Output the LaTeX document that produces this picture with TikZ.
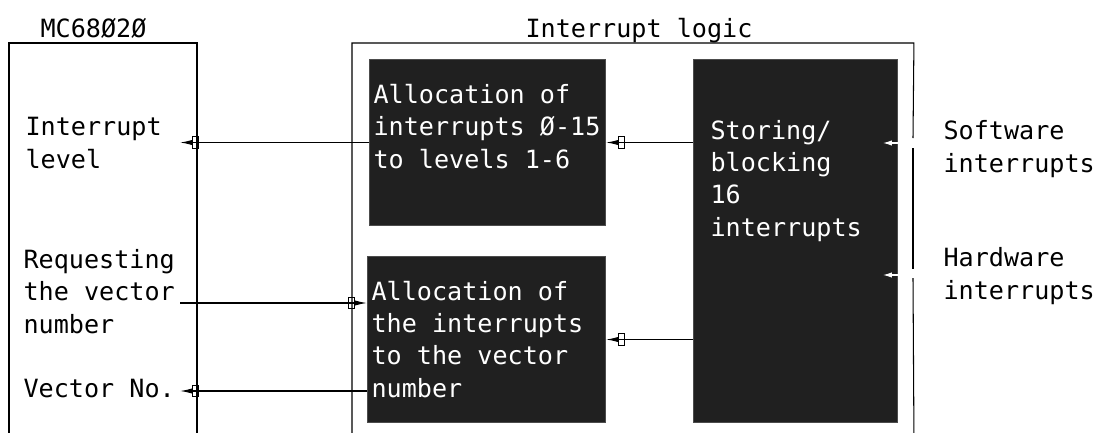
\documentclass[tikz,border=0pt]{standalone}
\usepackage{fontspec}
\setmonofont{DejaVu Sans Mono}
\usepackage{tikz}
\usetikzlibrary{positioning, arrows.meta, calc}

\definecolor{boxdark}{RGB}{32,32,32}
\newcommand{\diagfont}{\ttfamily\fontsize{14.3pt}{18.3pt}\selectfont}

\begin{document}
\begin{tikzpicture}[
    x=0.02cm, y=-0.02cm,
    line width=0.6pt,
    sigtip/.tip={Square[open, length=4pt, width=7pt] Latex[length=7pt, width=3pt]},
    frame/.style={rectangle, draw=none, anchor=north west, inner sep=0pt},
    darkbox/.style={rectangle, fill=boxdark, draw=gray!60!black, anchor=north west, inner sep=0pt},
    txt/.style={anchor=base west, align=left, inner sep=0pt, font=\diagfont},
    wtxt/.style={txt, text=white},
    sig/.style={-{sigtip}},
    insig/.style={draw=white, -{Latex[length=5pt, width=3pt]}},
]
\useasboundingbox (0,0) rectangle (1100,433);

% outer frames, open at the bottom
\node[frame, minimum width=3.74cm, minimum height=7.8cm](mc) at (9,43){};
\node[frame, minimum width=11.22cm, minimum height=7.8cm](logic) at (352,43){};
\node[txt] at (40,37){MC68Ø2Ø};
\node[txt] at (525,37){Interrupt logic};

% blocks (text nodes sit on their last baseline)
\node[darkbox, minimum width=4.72cm, minimum height=3.32cm](a1) at (369,59){};
\node[darkbox, minimum width=4.76cm, minimum height=3.32cm](a2) at (367,256){};
\node[darkbox, minimum width=4.08cm, minimum height=7.26cm](sb) at (693,59){};
\node[wtxt] at ($(a1.north west)+(4,109)$){Allocation of\\interrupts Ø-15\\to levels 1-6};
\node[wtxt] at ($(a2.north west)+(4,141)$){Allocation of\\the interrupts\\to the vector\\number};
\node[wtxt] at ($(sb.north west)+(17,177)$){Storing/\\blocking\\16\\interrupts};

% CPU side signals
\node[txt](lvl) at (25,168){Interrupt\\level};
\node[txt](req) at (23,333){Requesting\\the vector\\number};
\node[txt](vec) at (23,397){Vector No.};
\coordinate (lvlout) at (180,142);
\coordinate (reqin) at (180,303);
\coordinate (vecout) at (180,391);

% inputs
\node[txt](sw) at (943,172){Software\\interrupts};
\node[txt](hw) at (943,299){Hardware\\interrupts};
\coordinate (swin) at (913,143);
\coordinate (hwin) at (913,275);

\draw (mc.south west) |- (mc.north east) -- (mc.south east);
\draw (logic.south west) |- (logic.north east) -- ($(swin)+(0,-5)$);
\draw ($(swin)+(0,5)$) -- ($(hwin)+(0,-6)$);
\draw ($(hwin)+(0,3)$) -- (logic.south east);

\draw[sig] (a1.west) -- (a1.west -| lvlout);
\draw[sig] (sb.west |- a1.west) -- (a1.east);
\draw[sig] (reqin) -- (a2.west |- reqin);
\draw[sig] (sb.west |- a2.west) -- (a2.east);
\draw[sig] (a2.west |- vecout) -- (vecout);
\draw[insig] (swin) -- ($(sb.east |- swin)+(-15,0)$);
\draw[insig] (hwin) -- ($(sb.east |- hwin)+(-15,0)$);
\end{tikzpicture}
\end{document}
